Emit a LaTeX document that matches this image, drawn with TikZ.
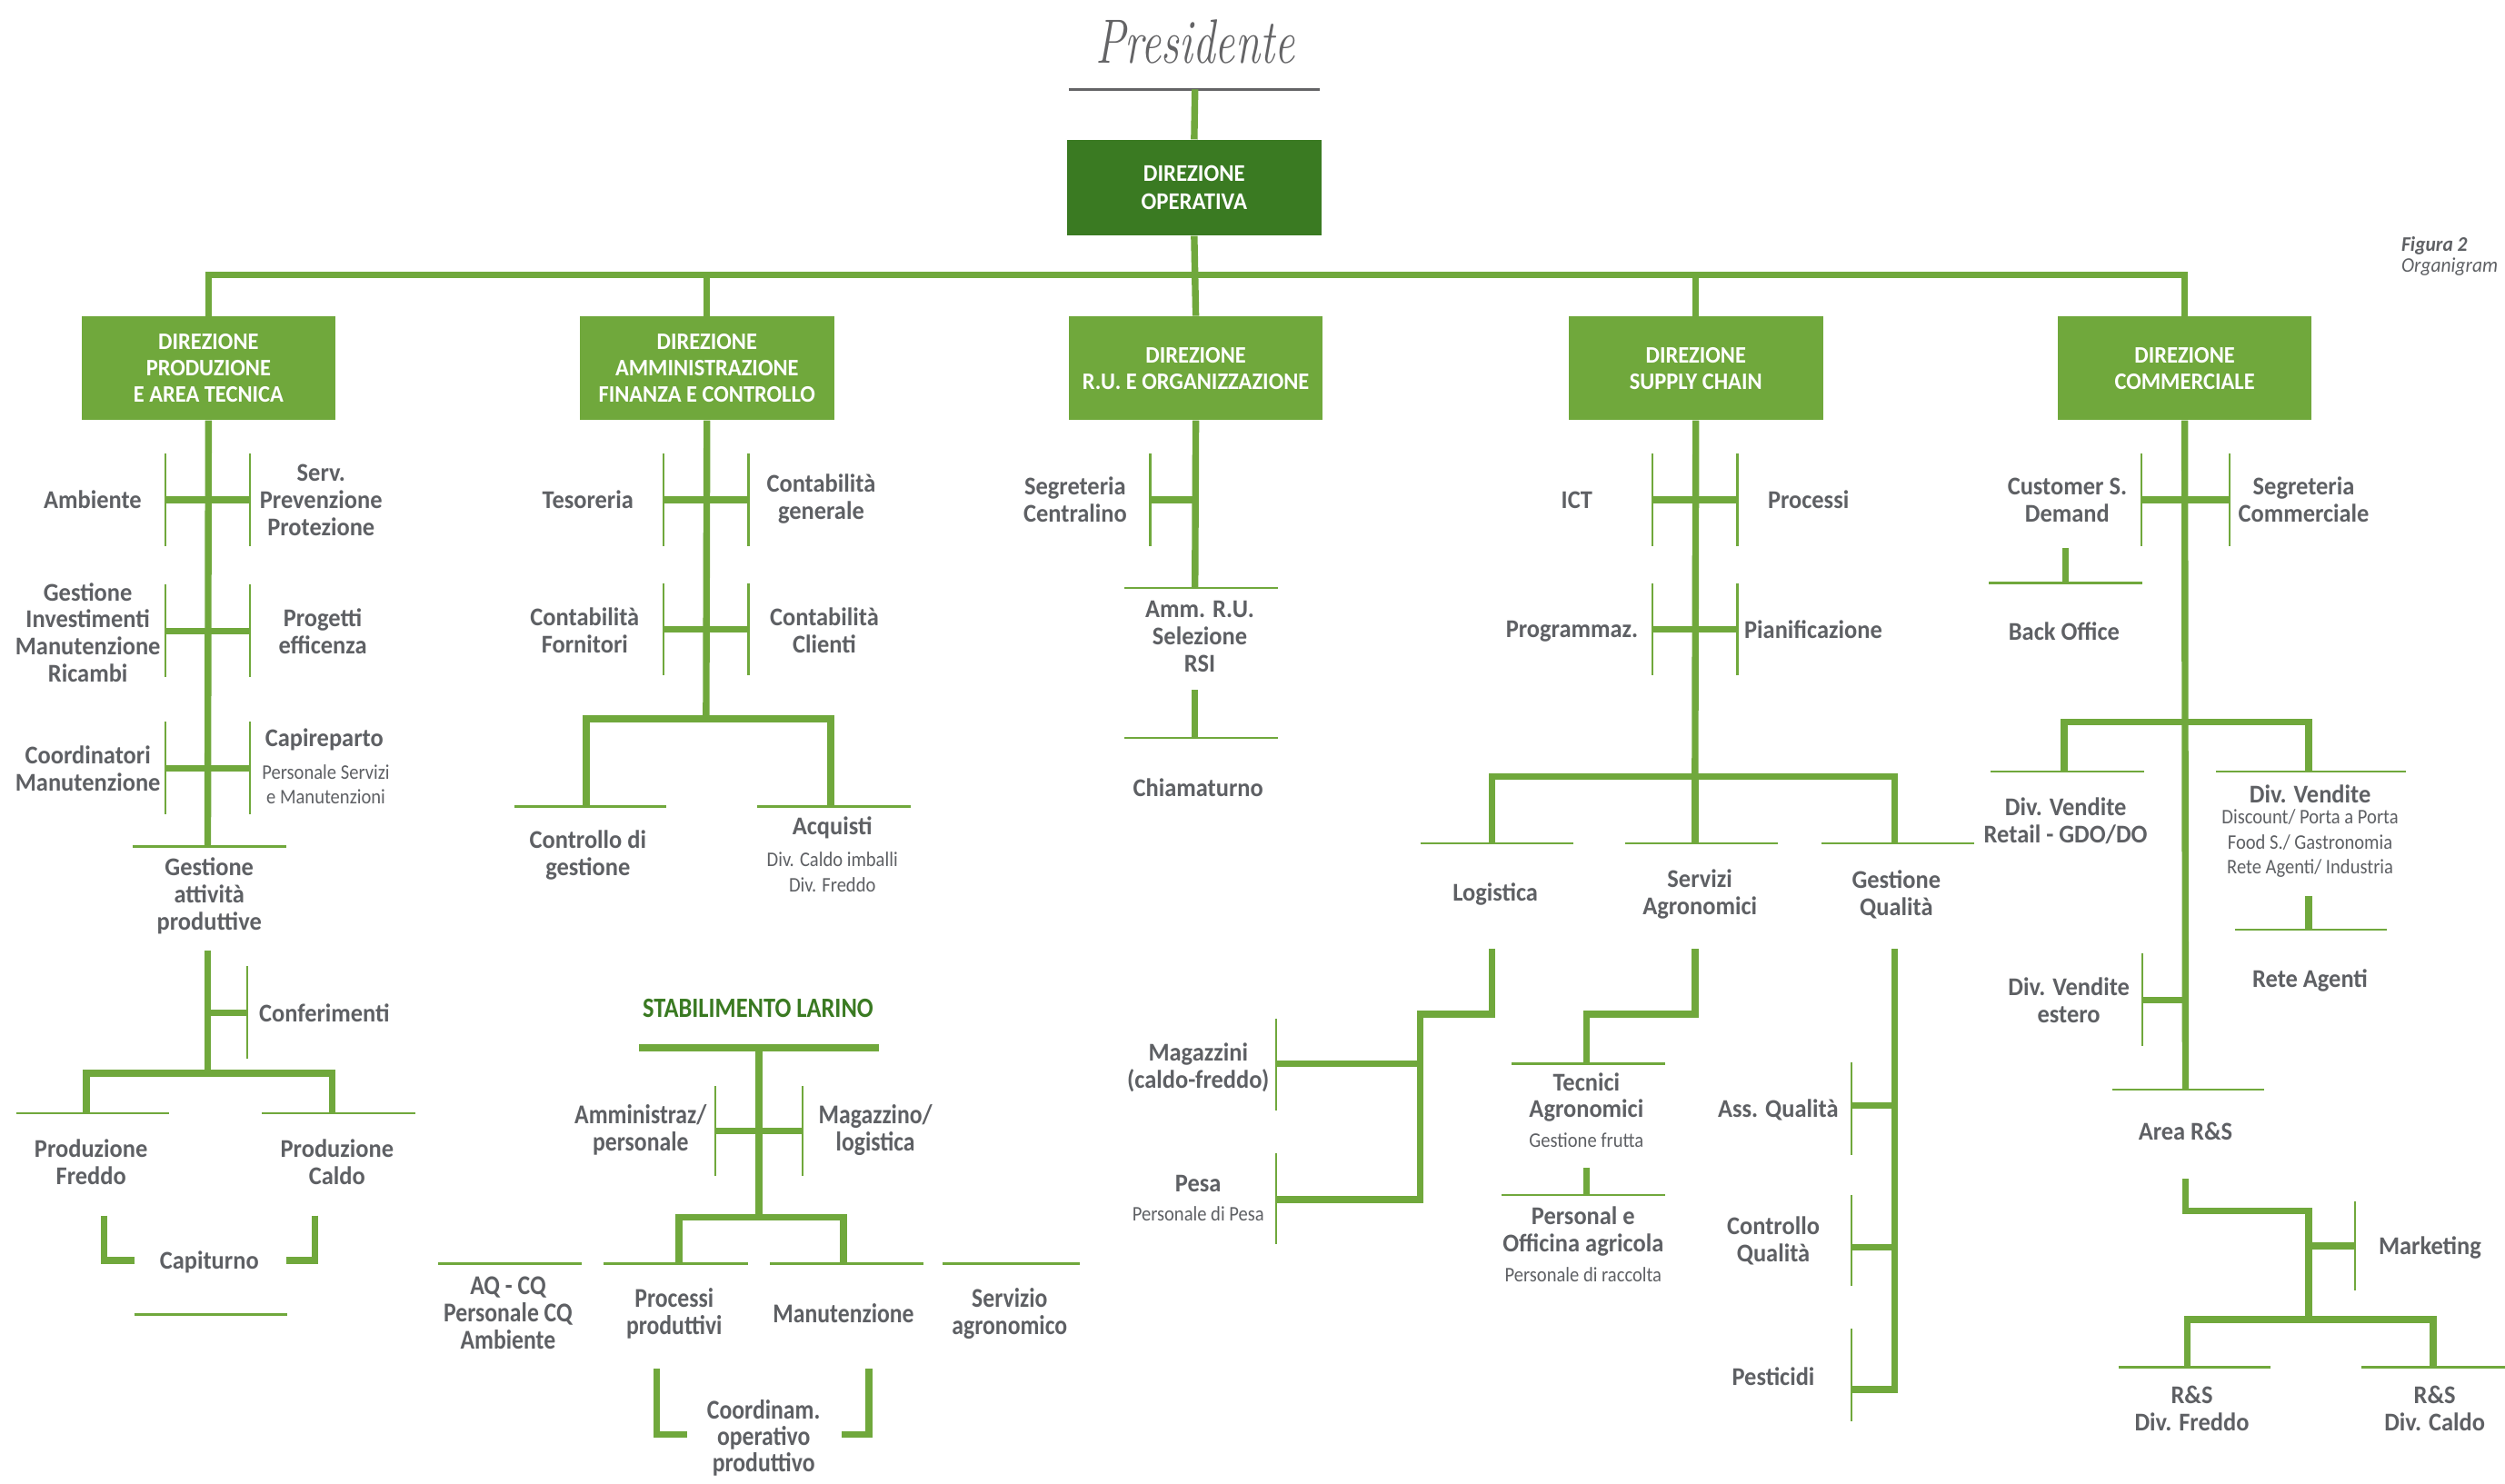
\documentclass[tikz,border=0pt]{standalone}
\usepackage{fontspec}
\usepackage{graphicx}
\newfontfamily\labfont[FakeStretch=0.94]{Carlito}
\newfontfamily\labsubfont[FakeStretch=0.9]{Carlito}
\newfontfamily\labnarrow[FakeStretch=0.86]{Carlito}
\definecolor{lgreen}{HTML}{70A83C}
\definecolor{dgreen}{HTML}{3A7A22}
\definecolor{tgrey}{HTML}{5E6064}
\definecolor{pgrey}{HTML}{646466}

% two-sided junction: x, y, half width, half height
\newcommand\xbarboth[4]{%
  \draw[tickln] (#1-#3,#2-#4) -- (#1-#3,#2+#4);
  \draw[tickln] (#1+#3,#2-#4) -- (#1+#3,#2+#4);
  \draw[trunkln] (#1-#3,#2) -- (#1+#3,#2);}
% one-sided junctions
\newcommand\xbarleft[4]{%
  \draw[tickln] (#1-#3,#2-#4) -- (#1-#3,#2+#4);
  \draw[trunkln] (#1-#3,#2) -- (#1,#2);}
\newcommand\xbarright[4]{%
  \draw[tickln] (#1+#3,#2-#4) -- (#1+#3,#2+#4);
  \draw[trunkln] (#1,#2) -- (#1+#3,#2);}
% thin line above a label: x from, x to, y
\newcommand\labrule[3]{\draw[ruleln] (#1,#3) -- (#2,#3);}

\begin{document}
\begin{tikzpicture}[x=1pt,y=-1pt,
  trunkln/.style={draw=lgreen,line width=4.2pt,line join=miter},
  tickln/.style={draw=lgreen,line width=1.2pt},
  ruleln/.style={draw=lgreen,line width=1.4pt},
  lbl/.style={font=\labfont\bfseries\fontsize{16}{17}\selectfont,text=tgrey,align=center,inner sep=0pt},
  lblsub/.style={font=\labsubfont\fontsize{13}{15.5}\selectfont,text=tgrey,align=center,inner sep=0pt},
  lblst/.style={font=\labnarrow\bfseries\fontsize{17}{17}\selectfont,text=tgrey,align=center,inner sep=0pt},
  dirbox/.style={fill=lgreen,minimum width=159pt,minimum height=65pt,inner sep=0pt,
    text=white,align=center,font=\labfont\bfseries\fontsize{14.8}{16.5}\selectfont},
]
\useasboundingbox (0,0) rectangle (1568,929);
\fill[white] (0,0) rectangle (1568,929);
\clip (0,0) rectangle (1568,929);

% ---------- top ----------
\node[text=pgrey,inner sep=0pt] (pres) at (748,26)
  {\scalebox{1}[1.4]{\fontsize{28}{28}\selectfont\itshape Presidente}};
\coordinate (presbar) at (748,56);
\draw[pgrey,line width=1.6pt] (669,56) -- (826,56);

\node[dirbox,fill=dgreen,minimum height=60pt,font=\labfont\bfseries\fontsize{15}{18}\selectfont]
  (dop) at (747.5,117.5) {DIREZIONE\\OPERATIVA};
\draw[trunkln] (presbar) -- (dop.north);

\node[dirbox] (d1) at (130.5,230.5) {DIREZIONE\\PRODUZIONE\\E AREA TECNICA};
\node[dirbox] (d2) at (442.5,230.5) {DIREZIONE\\AMMINISTRAZIONE\\FINANZA E CONTROLLO};
\node[dirbox] (d3) at (748.5,230.5) {DIREZIONE\\R.U. E ORGANIZZAZIONE};
\node[dirbox] (d4) at (1061.5,230.5) {DIREZIONE\\SUPPLY CHAIN};
\node[dirbox] (d5) at (1367.5,230.5) {DIREZIONE\\COMMERCIALE};

\coordinate (bus) at (0,172);
\draw[trunkln] (d1.north) -- (d1.north |- bus) -- (d5.north |- bus) -- (d5.north);
\draw[trunkln] (d2.north) -- (d2.north |- bus);
\draw[trunkln] (d4.north) -- (d4.north |- bus);
\draw[trunkln] (dop.south) -- (d3.north);

\node[anchor=west,inner sep=0pt,text=tgrey,font=\labfont\bfseries\itshape\fontsize{13}{14}\selectfont]
  (fig) at (1503,154) {Figura 2};
\node[anchor=west,inner sep=0pt,text=tgrey,font=\labfont\itshape\fontsize{13}{14}\selectfont]
  (figsub) at (1503,167) {Organigram};

% ---------- produzione e area tecnica ----------
\coordinate (aend) at (130,530);
\draw[trunkln] (d1.south) -- (aend);
\xbarboth{130}{313}{26.5}{29}
\xbarboth{130}{395}{26.5}{29}
\xbarboth{130}{481}{26.5}{29}
\node[lbl] (amb) at (58,313) {Ambiente};
\node[lbl] (serv) at (201,313) {Serv.\\Prevenzione\\Protezione};
\node[lbl] (gest) at (55,396) {Gestione\\Investimenti\\Manutenzione\\Ricambi};
\node[lbl] (prog) at (202,395) {Progetti\\efficenza};
\node[lbl] (coord) at (55,481) {Coordinatori\\Manutenzione};
\node[lbl] (capi) at (203,463) {Capireparto};
\node[lblsub] (capisub) at (204,491) {Personale Servizi\\e Manutenzioni};
\labrule{83}{179}{530}
\node[lbl] (gap) at (131,561) {Gestione\\attività\\produttive};
\coordinate (gaptop) at (130,595);
\coordinate (gapbus) at (130,672);
\draw[trunkln] (gaptop) -- (gapbus);
\xbarright{130}{634}{25}{29}
\node[lbl,anchor=west] (conf) at (162,634) {Conferimenti};
\draw[trunkln] (54,697) -- (54,672) -- (208,672) -- (208,697);
\labrule{10}{106}{697}
\labrule{164}{260}{697}
\node[lbl] (pfr) at (57,727.5) {Produzione\\Freddo};
\node[lbl] (pca) at (211,727.5) {Produzione\\Caldo};
\draw[trunkln] (65,761) -- (65,789) -- (84,789);
\draw[trunkln] (197,761) -- (197,789) -- (179,789);
\node[lbl] (capt) at (131,790) {Capiturno};
\labrule{84}{180}{823}

% ---------- amministrazione finanza e controllo ----------
\coordinate (bend) at (442,450);
\draw[trunkln] (d2.south) -- (bend);
\xbarboth{442}{313}{26.5}{29}
\xbarboth{442}{394}{26.5}{29}
\node[lbl] (tes) at (368,313) {Tesoreria};
\node[lbl] (cgen) at (514,312.5) {Contabilità\\generale};
\node[lbl] (cfor) at (366,394.5) {Contabilità\\Fornitori};
\node[lbl] (ccli) at (516,394.5) {Contabilità\\Clienti};
\draw[trunkln] (367,505) -- (367,450) -- (520,450) -- (520,505);
\labrule{322}{417}{505}
\labrule{474}{570}{505}
\node[lbl] (cdg) at (368,535.5) {Controllo di\\gestione};
\node[lbl] (acq) at (521,518) {Acquisti};
\node[lblsub] (acqsub) at (521,546) {Div. Caldo imballi\\Div. Freddo};

% ---------- stabilimento larino ----------
\node[inner sep=0pt,text=dgreen,font=\labnarrow\bfseries\fontsize{17.5}{18}\selectfont]
  (stab) at (474.5,631) {STABILIMENTO LARINO};
\draw[trunkln] (400,656) -- (550,656);
\draw[trunkln] (475,656) -- (475,762);
\xbarboth{475}{708}{27.5}{28}
\node[lblst] (ammp) at (401,707.5) {Amministraz/\\personale};
\node[lblst] (magl) at (548,707.5) {Magazzino/\\logistica};
\draw[trunkln] (425,791) -- (425,762) -- (528,762) -- (528,791);
\labrule{274}{364}{791}
\labrule{378}{468}{791}
\labrule{482}{578}{791}
\labrule{590}{676}{791}
\node[lblst] (aqcq) at (318,822) {AQ - CQ\\Personale CQ\\Ambiente};
\node[lblst] (proc) at (422,822.5) {Processi\\produttivi};
\node[lblst] (manu) at (528,822) {Manutenzione};
\node[lblst] (sagr) at (632,822.5) {Servizio\\agronomico};
\draw[trunkln] (411,857) -- (411,898) -- (430,898);
\draw[trunkln] (544,857) -- (544,898) -- (527,898);
\node[lblst,font=\labnarrow\bfseries\fontsize{17}{16.5}\selectfont] (coop) at (478,900) {Coordinam.\\operativo\\produttivo};

% ---------- r.u. e organizzazione ----------
\coordinate (cend) at (748,368);
\draw[trunkln] (d3.south) -- (cend);
\xbarleft{748}{313}{28}{29}
\node[lbl] (segc) at (673,313) {Segreteria\\Centralino};
\labrule{704}{800}{368}
\node[lbl] (amru) at (751,398.5) {Amm. R.U.\\Selezione\\RSI};
\draw[trunkln] (748,432) -- (748,462);
\labrule{704}{800}{462}
\node[lbl] (chia) at (750,493) {Chiamaturno};

% ---------- supply chain ----------
\coordinate (dend) at (1061,486);
\draw[trunkln] (d4.south) -- (dend);
\xbarboth{1061}{313}{26.5}{29}
\xbarboth{1061}{394}{26.5}{29}
\node[lbl] (ict) at (987,313) {ICT};
\node[lbl] (procs) at (1132,313) {Processi};
\node[lbl] (prgz) at (984,395) {Programmaz.};
\node[lbl] (pian) at (1135,394) {Pianificazione};
\draw[trunkln] (934,528) -- (934,486) -- (1186,486) -- (1186,528);
\draw[trunkln] (dend) -- (1061,528);
\labrule{889}{985}{528}
\labrule{1017}{1113}{528}
\labrule{1140}{1236}{528}
\node[lbl] (logi) at (936,560) {Logistica};
\node[lbl] (sagro) at (1064,560) {Servizi\\Agronomici};
\node[lbl] (gqual) at (1187,560) {Gestione\\Qualità};
% logistica
\draw[trunkln] (934,594) -- (934,635) -- (889,635) -- (889,751) -- (799,751);
\draw[trunkln] (889,666) -- (799,666);
\draw[tickln] (799,638) -- (799,695);
\draw[tickln] (799,722) -- (799,779);
\node[lbl] (magz) at (750,668.5) {Magazzini\\(caldo-freddo)};
\node[lbl] (pesa) at (750,741) {Pesa};
\node[lblsub] (pesasub) at (750,760) {Personale di Pesa};
% servizi agronomici
\draw[trunkln] (1061,594) -- (1061,635) -- (993,635) -- (993,666);
\labrule{946}{1042}{666}
\node[lbl] (tecn) at (993,687) {Tecnici\\Agronomici};
\node[lblsub] (tecnsub) at (993,714) {Gestione frutta};
\draw[trunkln] (993,731) -- (993,748);
\labrule{940}{1042}{748}
\node[lbl] (pers) at (991,771) {Personal e\\Officina agricola};
\node[lblsub] (perssub) at (991,798) {Personale di raccolta};
% gestione qualita
\draw[trunkln] (1186,594) -- (1186,870) -- (1159,870);
\draw[trunkln] (1186,692) -- (1159,692);
\draw[trunkln] (1186,781) -- (1159,781);
\draw[tickln] (1159,665) -- (1159,723);
\draw[tickln] (1159,748) -- (1159,805);
\draw[tickln] (1159,832) -- (1159,890);
\node[lbl] (assq) at (1113,695) {Ass. Qualità};
\node[lbl] (ctrq) at (1110,777) {Controllo\\Qualità};
\node[lbl] (pest) at (1110,862) {Pesticidi};

% ---------- commerciale ----------
\coordinate (eend) at (1368,682);
\draw[trunkln] (d5.south) -- (eend);
\xbarboth{1368}{313}{27.5}{29}
\node[lbl] (cust) at (1294,313) {Customer S.\\Demand};
\node[lbl] (segr) at (1442,313) {Segreteria\\Commerciale};
\draw[trunkln] (1293,343) -- (1293,365);
\labrule{1245}{1341}{365}
\node[lbl] (back) at (1292,395) {Back Office};
\draw[trunkln] (1292,483) -- (1292,452) -- (1445,452) -- (1445,483);
\labrule{1246}{1342}{483}
\labrule{1387}{1506}{483}
\node[lbl] (dvr) at (1293,514) {Div. Vendite\\Retail - GDO/DO};
\node[lbl] (dvd) at (1446,497) {Div. Vendite};
\node[lblsub] (dvdsub) at (1446,528) {Discount/ Porta a Porta\\Food S./ Gastronomia\\Rete Agenti/ Industria};
\draw[trunkln] (1445,561) -- (1445,582);
\labrule{1399}{1494}{582}
\node[lbl] (rete) at (1446,614) {Rete Agenti};
\xbarleft{1368}{626}{27}{29}
\node[lbl] (dve) at (1295,626) {Div. Vendite\\estero};
\labrule{1322}{1417}{682}
\node[lbl] (ars) at (1368,708) {Area R\&S};
\draw[trunkln] (1368,738) -- (1368,758) -- (1445,758) -- (1445,826);
\xbarright{1445}{780}{29}{28}
\node[lbl] (mkt) at (1521,781) {Marketing};
\draw[trunkln] (1369,856) -- (1369,826) -- (1523,826) -- (1523,856);
\labrule{1326}{1421}{856}
\labrule{1478}{1575}{856}
\node[lbl] (rsf) at (1372,882) {R\&S\\Div. Freddo};
\node[lbl] (rsc) at (1524,882) {R\&S\\Div. Caldo};
\end{tikzpicture}
\end{document}
